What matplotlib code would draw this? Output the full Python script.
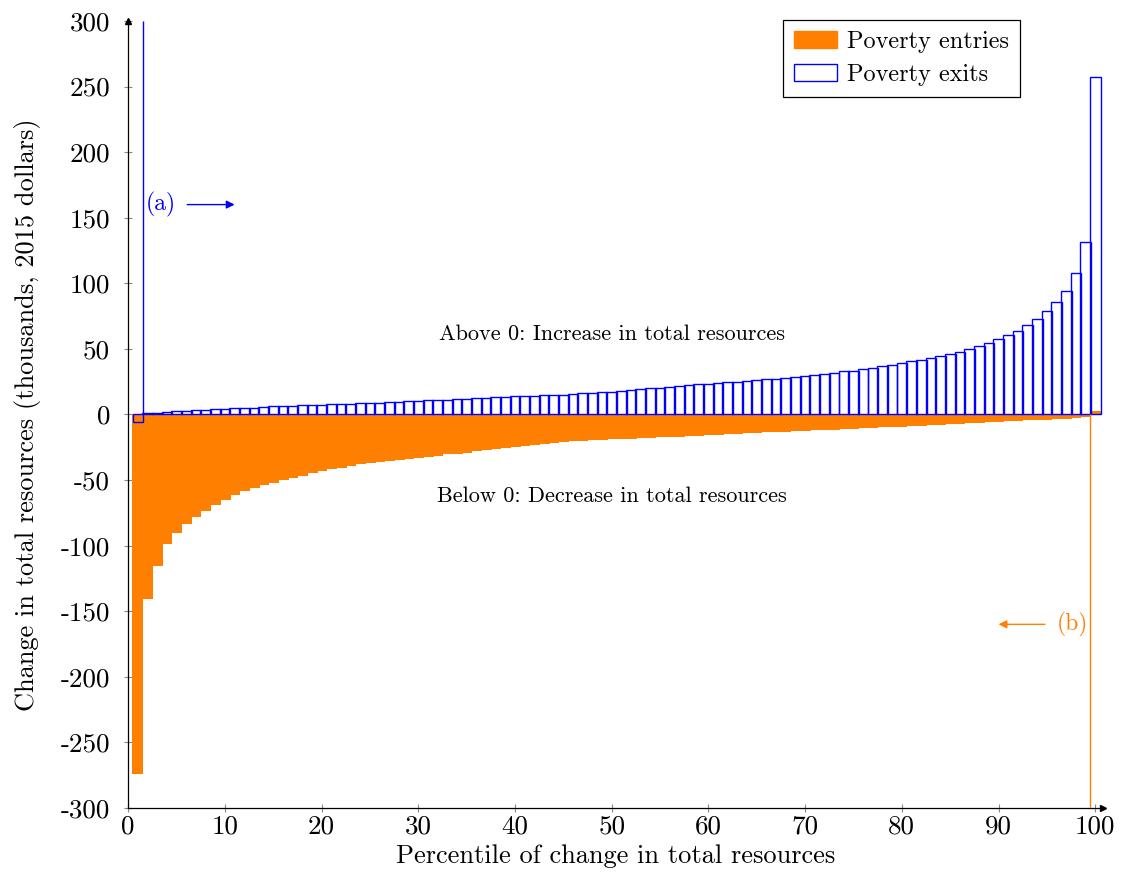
import matplotlib
matplotlib.use("Agg")
import matplotlib.pyplot as plt
from matplotlib.patches import Patch
from matplotlib.ticker import FuncFormatter
import numpy as np

plt.rcParams['font.family'] = ['cmr10', 'DejaVu Serif']
plt.rcParams['mathtext.fontset'] = 'cm'
plt.rcParams['axes.unicode_minus'] = False

# --- data: change in total resources by percentile (thousands, 2015 dollars) ---
percentile = np.arange(1, 101)

entries = [
    -274.4, -140.8, -115.5, -99.1, -90.2, -83.8, -78.3, -73.9, -69.1, -65.5,
    -61.6, -58.7, -56.4, -54.1, -52.1, -50.2, -48.5, -46.8, -45.0, -43.4,
    -41.9, -40.9, -39.4, -38.1, -37.1, -36.2, -35.3, -34.5, -33.7, -32.9,
    -32.2, -31.4, -30.5, -30.0, -29.0, -28.2, -27.4, -26.4, -25.7, -24.9,
    -24.1, -23.4, -22.6, -21.8, -21.1, -20.6, -20.1, -19.6, -19.1, -18.6,
    -18.9, -18.5, -18.2, -17.8, -17.5, -17.1, -16.8, -16.4, -16.1, -15.7,
    -15.4, -15.1, -14.7, -14.4, -14.1, -13.7, -13.4, -13.1, -12.8, -12.5,
    -12.2, -11.9, -11.6, -11.2, -10.9, -10.6, -10.3, -9.9, -9.6, -9.2,
    -8.8, -8.5, -8.1, -7.8, -7.4, -7.0, -6.7, -6.3, -6.0, -5.6,
    -5.3, -4.9, -4.6, -4.2, -3.9, -3.5, -3.1, -2.6, -2.0, 2.8,
]

exits = [
    -5.6, 0.8, 1.3, 1.8, 2.3, 2.8, 3.3, 3.6, 4.1, 4.3,
    4.8, 5.1, 5.3, 5.8, 6.1, 6.4, 6.6, 6.9, 7.1, 7.4,
    7.6, 7.9, 8.1, 8.6, 8.9, 9.1, 9.4, 9.7, 10.2, 10.4,
    10.7, 10.9, 11.4, 11.7, 11.9, 12.2, 12.7, 13.0, 13.5, 13.7,
    14.0, 14.2, 14.5, 14.7, 15.1, 15.5, 16.0, 16.5, 17.0, 17.5,
    18.0, 18.5, 19.1, 19.8, 20.3, 20.8, 21.6, 22.4, 22.9, 23.4,
    23.9, 24.4, 24.9, 25.4, 26.2, 26.7, 27.4, 27.9, 28.7, 29.2,
    30.0, 30.7, 31.8, 32.8, 33.5, 34.7, 35.8, 36.8, 37.8, 39.1,
    40.4, 41.9, 43.4, 44.7, 46.2, 47.7, 50.0, 52.3, 54.6, 57.6,
    60.4, 64.0, 68.1, 72.9, 78.7, 85.4, 93.8, 107.5, 131.6, 257.0,
]

ORANGE = '#FF8000'
BLUE = '#0000FF'

fig = plt.figure(figsize=(11.24, 8.84), dpi=100)
ax = fig.add_axes([0.1141, 0.086, 0.8672, 0.8903])

ax.bar(percentile, entries, width=1.15, color=ORANGE, linewidth=0, zorder=2)
ax.bar(percentile, exits, width=1.1, facecolor='none', edgecolor=BLUE,
       linewidth=1.0, zorder=3)

# markers for the values that run off the scale
ax.vlines(1.55, 0, 300, color=BLUE, linewidth=1.0, zorder=3)
ax.vlines(99.45, -300, 0, color=ORANGE, linewidth=1.0, zorder=3)

ax.text(1.8, 160, '(a)', color=BLUE, fontsize=17, va='center', ha='left')
ax.annotate('', xy=(11.0, 160), xytext=(6.1, 160),
            arrowprops=dict(arrowstyle='-|>', color=BLUE, lw=1.0,
                            mutation_scale=12, shrinkA=0, shrinkB=0))
ax.text(99.3, -160, '(b)', color=ORANGE, fontsize=17, va='center', ha='right')
ax.annotate('', xy=(90.0, -160), xytext=(94.8, -160),
            arrowprops=dict(arrowstyle='-|>', color=ORANGE, lw=1.0,
                            mutation_scale=12, shrinkA=0, shrinkB=0))

ax.text(50, 61, 'Above 0: Increase in total resources', fontsize=16,
        ha='center', va='center')
ax.text(50, -62, 'Below 0: Decrease in total resources', fontsize=16,
        ha='center', va='center')

ax.set_xlim(0, 100.8)
ax.set_ylim(-300, 300)
ax.set_xticks(np.arange(0, 101, 10))
ax.set_yticks(np.arange(-300, 301, 50))
ax.xaxis.set_major_formatter(FuncFormatter(lambda v, p: f"{int(round(v))}"))
ax.yaxis.set_major_formatter(FuncFormatter(lambda v, p: f"{int(round(v))}"))
ax.tick_params(direction='inout', length=6, width=0.8, color='#888888',
               labelsize=19.5)
ax.tick_params(axis='y', pad=10)
ax.tick_params(axis='x', pad=2)

for side in ['top', 'right']:
    ax.spines[side].set_visible(False)
for side in ['left', 'bottom']:
    ax.spines[side].set_linewidth(0.9)
ax.plot(1, 0, '>k', markersize=5, transform=ax.transAxes, clip_on=False)
ax.plot(0, 1, '^k', markersize=5, transform=ax.transAxes, clip_on=False)

ax.set_xlabel('Percentile of change in total resources', fontsize=19, labelpad=4)
ax.set_ylabel('Change in total resources (thousands, 2015 dollars)',
              fontsize=19, labelpad=14)

handles = [Patch(facecolor=ORANGE, edgecolor=ORANGE),
           Patch(facecolor='white', edgecolor=BLUE)]
leg = ax.legend(handles, ['Poverty entries', 'Poverty exits'],
                loc='upper right', bbox_to_anchor=(0.915, 1.001), fontsize=17.5,
                fancybox=False, edgecolor='black', framealpha=1,
                handlelength=1.8, handleheight=0.7, handletextpad=0.4,
                borderpad=0.45, labelspacing=0.45, borderaxespad=0)
leg.get_frame().set_linewidth(0.9)

fig.savefig('out.png', dpi=100)
